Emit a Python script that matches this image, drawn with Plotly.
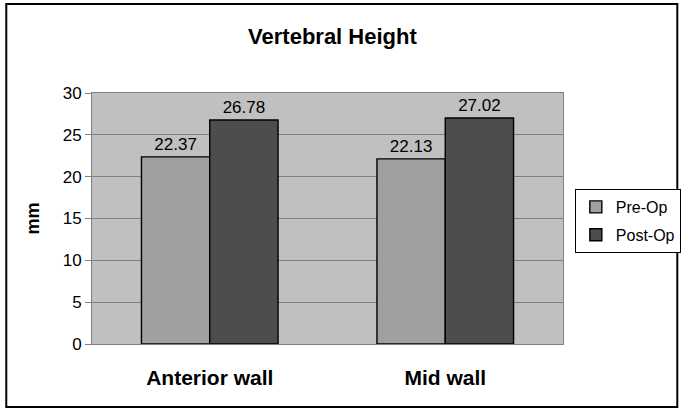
import plotly.graph_objects as go

categories = ["Anterior wall", "Mid wall"]
pre_op = [22.37, 22.13]
post_op = [26.78, 27.02]
y_ticks = [0, 5, 10, 15, 20, 25, 30]

W, H = 693, 415
L, R, T, B = 92, 123, 93, 71
pw, ph = W - L - R, H - T - B
FONT = "Liberation Sans, Arial"


def px_x(x):
    return (x - L) / pw


def px_y(y):
    return (H - B - y) / ph


fig = go.Figure()
for name, vals, color in [("Pre-Op", pre_op, "#a0a0a0"), ("Post-Op", post_op, "#4d4d4d")]:
    fig.add_trace(
        go.Bar(
            x=categories,
            y=vals,
            name=name,
            legendgroup=name,
            marker=dict(color=color, line=dict(color="#000000", width=1.4)),
            text=[f"{v:.2f}" for v in vals],
            textposition="outside",
            textfont=dict(family=FONT, size=17, color="#000000"),
            cliponaxis=False,
        )
    )

fig.update_layout(
    width=W,
    height=H,
    margin=dict(l=L, r=R, t=T, b=B),
    paper_bgcolor="#ffffff",
    plot_bgcolor="#c0c0c0",
    barmode="group",
    bargap=0.42,
    bargroupgap=0,
    font=dict(family=FONT, color="#000000"),
    title=dict(
        text="<b>Vertebral Height</b>",
        x=px_x(336), xref="paper", xanchor="center",
        y=1 - 36 / H, yanchor="middle",
        font=dict(size=22),
    ),
    legend=dict(
        x=px_x(582), y=px_y(189), xanchor="left", yanchor="top",
        bordercolor="#000000", borderwidth=1, bgcolor="#ffffff",
        font=dict(size=16), itemwidth=30,
        traceorder="grouped", tracegroupgap=4,
    ),
    showlegend=True,
)
fig.update_xaxes(
    showgrid=False,
    tickfont=dict(size=21, family=FONT),
    tickprefix="<b>", ticksuffix="</b>",
    showline=True, linecolor="#808080", linewidth=1, mirror=True,
    ticks="", ticklabelstandoff=15,
)
fig.update_yaxes(
    range=[0, 30],
    tickvals=y_ticks,
    tickfont=dict(size=17),
    showgrid=True, gridcolor="#808080", gridwidth=1,
    showline=True, linecolor="#808080", linewidth=1, mirror=True,
    ticks="outside", ticklen=6, tickcolor="#808080",
    zeroline=False,
    title=dict(text="<b>mm</b>", font=dict(size=18), standoff=18),
)
fig.add_shape(
    type="rect", xref="paper", yref="paper",
    x0=px_x(5), x1=px_x(686), y0=px_y(407), y1=px_y(4),
    line=dict(color="#000000", width=2),
)
fig.write_html(
    "out.html",
    config={"displayModeBar": False},
    post_script="document.body.style.margin='0';",
)
